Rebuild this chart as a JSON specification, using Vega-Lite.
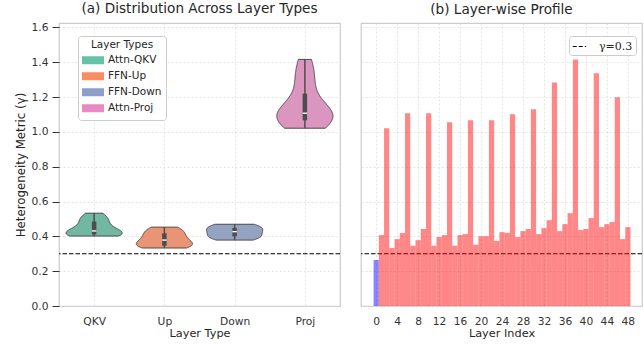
{
  "$schema": "https://vega.github.io/schema/vega-lite/v6.json",
  "background": "white",
  "padding": {"left": 14, "top": 1, "right": 6, "bottom": 2},
  "spacing": 17,
  "resolve": {"scale": {"color": "independent", "fill": "independent", "y": "independent", "x": "independent"}, "legend": {"color": "independent"}},
  "datasets": {
    "threshold": [{"gamma": 0.3, "label": "γ=0.3"}],
    "layers": [
      {"layer": 0, "type": "Embed", "value": 0.264},
      {"layer": 1, "type": "QKV", "value": 0.407},
      {"layer": 2, "type": "Proj", "value": 1.021},
      {"layer": 3, "type": "Up", "value": 0.333},
      {"layer": 4, "type": "Down", "value": 0.384},
      {"layer": 5, "type": "QKV", "value": 0.419},
      {"layer": 6, "type": "Proj", "value": 1.107},
      {"layer": 7, "type": "Up", "value": 0.346},
      {"layer": 8, "type": "Down", "value": 0.378},
      {"layer": 9, "type": "QKV", "value": 0.442},
      {"layer": 10, "type": "Proj", "value": 1.107},
      {"layer": 11, "type": "Up", "value": 0.346},
      {"layer": 12, "type": "Down", "value": 0.396},
      {"layer": 13, "type": "QKV", "value": 0.407},
      {"layer": 14, "type": "Proj", "value": 1.055},
      {"layer": 15, "type": "Up", "value": 0.346},
      {"layer": 16, "type": "Down", "value": 0.407},
      {"layer": 17, "type": "QKV", "value": 0.413},
      {"layer": 18, "type": "Proj", "value": 1.066},
      {"layer": 19, "type": "Up", "value": 0.352},
      {"layer": 20, "type": "Down", "value": 0.401},
      {"layer": 21, "type": "QKV", "value": 0.401},
      {"layer": 22, "type": "Proj", "value": 1.066},
      {"layer": 23, "type": "Up", "value": 0.373},
      {"layer": 24, "type": "Down", "value": 0.424},
      {"layer": 25, "type": "QKV", "value": 0.420},
      {"layer": 26, "type": "Proj", "value": 1.101},
      {"layer": 27, "type": "Up", "value": 0.396},
      {"layer": 28, "type": "Down", "value": 0.430},
      {"layer": 29, "type": "QKV", "value": 0.442},
      {"layer": 30, "type": "Proj", "value": 1.130},
      {"layer": 31, "type": "Up", "value": 0.413},
      {"layer": 32, "type": "Down", "value": 0.447},
      {"layer": 33, "type": "QKV", "value": 0.493},
      {"layer": 34, "type": "Proj", "value": 1.284},
      {"layer": 35, "type": "Up", "value": 0.430},
      {"layer": 36, "type": "Down", "value": 0.470},
      {"layer": 37, "type": "QKV", "value": 0.533},
      {"layer": 38, "type": "Proj", "value": 1.416},
      {"layer": 39, "type": "Up", "value": 0.436},
      {"layer": 40, "type": "Down", "value": 0.442},
      {"layer": 41, "type": "QKV", "value": 0.505},
      {"layer": 42, "type": "Proj", "value": 1.336},
      {"layer": 43, "type": "Up", "value": 0.453},
      {"layer": 44, "type": "Down", "value": 0.470},
      {"layer": 45, "type": "QKV", "value": 0.482},
      {"layer": 46, "type": "Proj", "value": 1.198},
      {"layer": 47, "type": "Up", "value": 0.384},
      {"layer": 48, "type": "Down", "value": 0.453}
    ]
  },
  "config": {
    "font": "DejaVu Sans",
    "view": {"stroke": "#cccccc", "strokeWidth": 1.25},
    "axis": {
      "domain": false,
      "labelOverlap": false,
      "gridColor": "#dddddd",
      "gridDash": [2, 2],
      "gridWidth": 0.8,
      "labelFont": "DejaVu Sans",
      "labelFontSize": 10.7,
      "labelColor": "#333333",
      "titleFont": "DejaVu Sans",
      "titleFontSize": 11.3,
      "titleFontWeight": "normal",
      "titleColor": "#262626"
    },
    "title": {"font": "DejaVu Sans", "fontSize": 13.6, "fontWeight": "normal", "color": "#262626"},
    "legend": {"labelFont": "DejaVu Sans", "titleFont": "DejaVu Sans", "labelColor": "#262626", "titleColor": "#262626", "titleFontWeight": "normal"}
  },
  "hconcat": [
    {
      "width": 281,
      "height": 283,
      "title": {"text": "(a) Distribution Across Layer Types", "offset": 6},
      "layer": [
        {
          "data": {"name": "threshold"},
          "mark": {"type": "rule", "color": "#000000", "strokeDash": [4.5, 2], "strokeWidth": 1.2},
          "encoding": {
            "y": {"field": "gamma", "type": "quantitative", "scale": {"domain": [0, 1.625], "nice": false}, "title": "Heterogeneity Metric (γ)",
                  "axis": {"values": [0, 0.2, 0.4, 0.6, 0.8, 1.0, 1.2, 1.4, 1.6], "format": ".1f", "tickSize": 7, "tickColor": "#333333", "labelPadding": 4, "titlePadding": 5, "titleFontSize": 11.8}}
          }
        },
        {
          "data": {"name": "layers"},
          "transform": [
            {"filter": "datum.type !== 'Embed'"},
            {"joinaggregate": [{"op": "min", "field": "value", "as": "gmin"}, {"op": "max", "field": "value", "as": "gmax"}], "groupby": ["type"]},
            {"density": "value", "groupby": ["type", "gmin", "gmax"], "steps": 1500, "as": ["v", "density"]},
            {"filter": "datum.v >= datum.gmin && datum.v <= datum.gmax"},
            {"joinaggregate": [{"op": "max", "field": "density", "as": "dmax"}], "groupby": ["type"]},
            {"calculate": "indexof(['QKV','Up','Down','Proj'], datum.type)", "as": "idx"},
            {"calculate": "datum.idx - 0.4 * datum.density / datum.dmax", "as": "xl"},
            {"calculate": "datum.idx + 0.4 * datum.density / datum.dmax", "as": "xr"}
          ],
          "layer": [
            {
              "mark": {"type": "area", "orient": "horizontal", "opacity": 1},
              "encoding": {
                "y": {"field": "v", "type": "quantitative", "title": "Heterogeneity Metric (γ)",
                      "axis": {"values": [0, 0.2, 0.4, 0.6, 0.8, 1.0, 1.2, 1.4, 1.6], "format": ".1f", "tickSize": 7, "tickColor": "#333333", "labelPadding": 4, "titlePadding": 5, "titleFontSize": 11.8}},
                "x": {"field": "xl", "type": "quantitative", "scale": {"domain": [-0.5, 3.5], "nice": false, "zero": false}, "title": "Layer Type",
                      "axis": {"values": [0, 1, 2, 3], "labelExpr": "['QKV','Up','Down','Proj'][datum.value]", "ticks": false, "labelPadding": 10, "titlePadding": 2}},
                "x2": {"field": "xr"},
                "color": {"field": "type", "type": "nominal",
                          "scale": {"domain": ["QKV", "Up", "Down", "Proj"], "range": ["#66c2a5", "#fc8d62", "#8da0cb", "#e78ac3"]},
                          "legend": {"orient": "none", "legendX": 19, "legendY": 13, "title": "Layer Types", "titleAnchor": "middle", "titleFontSize": 10.5, "titlePadding": 2,
                                     "labelExpr": "{'QKV':'Attn-QKV','Up':'FFN-Up','Down':'FFN-Down','Proj':'Attn-Proj'}[datum.label]",
                                     "labelFont": "DejaVu Sans", "labelFontSize": 10.5, "labelOffset": 4, "symbolType": "M-1,-0.37L1,-0.37L1,0.37L-1,0.37Z", "symbolSize": 484,
                                     "symbolStrokeWidth": 0, "clipHeight": 15.4, "rowPadding": 0, "padding": 4,
                                     "strokeColor": "#cccccc", "fillColor": "#ffffff", "cornerRadius": 3}}
              }
            },
            {
              "mark": {"type": "area", "orient": "horizontal", "opacity": 1, "stroke": "#4d4d4d", "strokeWidth": 1},
              "encoding": {
                "y": {"field": "v", "type": "quantitative", "title": "Heterogeneity Metric (γ)",
                      "axis": {"values": [0, 0.2, 0.4, 0.6, 0.8, 1.0, 1.2, 1.4, 1.6], "format": ".1f", "tickSize": 7, "tickColor": "#333333", "labelPadding": 4, "titlePadding": 5, "titleFontSize": 11.8}},
                "x": {"field": "xl", "type": "quantitative", "title": "Layer Type"},
                "x2": {"field": "xr"},
                "fill": {"field": "type", "type": "nominal",
                         "scale": {"domain": ["QKV", "Up", "Down", "Proj"], "range": ["#71b7a1", "#e99575", "#95a3c3", "#db96c0"]},
                         "legend": null}
              }
            }
          ]
        },
        {
          "data": {"name": "layers"},
          "transform": [
            {"filter": "datum.type !== 'Embed'"},
            {"calculate": "indexof(['QKV','Up','Down','Proj'], datum.type)", "as": "idx"},
            {"aggregate": [
              {"op": "min", "field": "value", "as": "vmin"},
              {"op": "max", "field": "value", "as": "vmax"},
              {"op": "q1", "field": "value", "as": "vq1"},
              {"op": "q3", "field": "value", "as": "vq3"},
              {"op": "median", "field": "value", "as": "vmed"}
            ], "groupby": ["idx"]}
          ],
          "layer": [
            {
              "mark": {"type": "rule", "color": "#4d4d4d", "strokeWidth": 1.5},
              "encoding": {
                "x": {"field": "idx", "type": "quantitative", "title": "Layer Type"},
                "y": {"field": "vmin", "type": "quantitative", "title": "Heterogeneity Metric (γ)",
                      "axis": {"values": [0, 0.2, 0.4, 0.6, 0.8, 1.0, 1.2, 1.4, 1.6], "format": ".1f", "tickSize": 7, "tickColor": "#333333", "labelPadding": 4, "titlePadding": 5, "titleFontSize": 11.8}},
                "y2": {"field": "vmax"}
              }
            },
            {
              "mark": {"type": "rule", "color": "#4d4d4d", "strokeWidth": 4.5},
              "encoding": {
                "x": {"field": "idx", "type": "quantitative", "title": "Layer Type"},
                "y": {"field": "vq1", "type": "quantitative", "title": "Heterogeneity Metric (γ)",
                      "axis": {"values": [0, 0.2, 0.4, 0.6, 0.8, 1.0, 1.2, 1.4, 1.6], "format": ".1f", "tickSize": 7, "tickColor": "#333333", "labelPadding": 4, "titlePadding": 5, "titleFontSize": 11.8}},
                "y2": {"field": "vq3"}
              }
            },
            {
              "mark": {"type": "point", "shape": "M-1,-0.3L1,-0.3L1,0.3L-1,0.3Z", "filled": true, "fill": "#ffffff", "strokeWidth": 0, "size": 20, "opacity": 1},
              "encoding": {
                "x": {"field": "idx", "type": "quantitative", "title": "Layer Type"},
                "y": {"field": "vmed", "type": "quantitative", "title": "Heterogeneity Metric (γ)",
                      "axis": {"values": [0, 0.2, 0.4, 0.6, 0.8, 1.0, 1.2, 1.4, 1.6], "format": ".1f", "tickSize": 7, "tickColor": "#333333", "labelPadding": 4, "titlePadding": 5, "titleFontSize": 11.8}}
              }
            }
          ]
        }
      ]
    },
    {
      "width": 281,
      "height": 283,
      "title": {"text": "(b) Layer-wise Profile", "offset": 6},
      "layer": [
        {
          "data": {"name": "threshold"},
          "mark": {"type": "rule", "strokeDash": [4.5, 2], "strokeWidth": 1.2},
          "encoding": {
            "y": {"field": "gamma", "type": "quantitative", "scale": {"domain": [0, 1.625], "nice": false}, "title": null,
                  "axis": {"values": [0, 0.2, 0.4, 0.6, 0.8, 1.0, 1.2, 1.4, 1.6], "labels": false, "ticks": false, "title": null, "minExtent": 0, "maxExtent": 0, "labelPadding": 0}},
            "color": {"field": "label", "type": "nominal", "scale": {"range": ["#000000"]},
                      "legend": {"orient": "none", "legendX": 208, "legendY": 13, "title": null, "symbolType": "stroke", "symbolSize": 180,
                                 "symbolDash": [4, 2], "symbolStrokeWidth": 1.2, "symbolStrokeColor": "#000000",
                                 "labelFont": "DejaVu Serif", "labelFontSize": 11, "labelOffset": 12, "padding": 3,
                                 "strokeColor": "#cccccc", "fillColor": "#ffffff", "cornerRadius": 3}}
          }
        },
        {
          "data": {"name": "layers"},
          "transform": [
            {"calculate": "datum.layer - 0.5", "as": "x0"},
            {"calculate": "datum.layer + 0.5", "as": "x1"}
          ],
          "mark": {"type": "bar", "opacity": 0.47},
          "encoding": {
            "x": {"field": "x0", "type": "quantitative", "scale": {"domain": [-2.9, 50.7], "nice": false, "zero": false}, "title": "Layer Index",
                  "axis": {"values": [0, 4, 8, 12, 16, 20, 24, 28, 32, 36, 40, 44, 48], "ticks": false, "labelPadding": 10, "titlePadding": 2}},
            "x2": {"field": "x1"},
            "y": {"field": "value", "type": "quantitative", "title": null,
                  "axis": {"values": [0, 0.2, 0.4, 0.6, 0.8, 1.0, 1.2, 1.4, 1.6], "labels": false, "ticks": false, "title": null, "minExtent": 0, "maxExtent": 0, "labelPadding": 0}},
            "y2": {"datum": 0},
            "fill": {"condition": {"test": "datum.value < 0.3", "value": "#0000ff"}, "value": "#ff0000"}
          }
        }
      ]
    }
  ]
}
